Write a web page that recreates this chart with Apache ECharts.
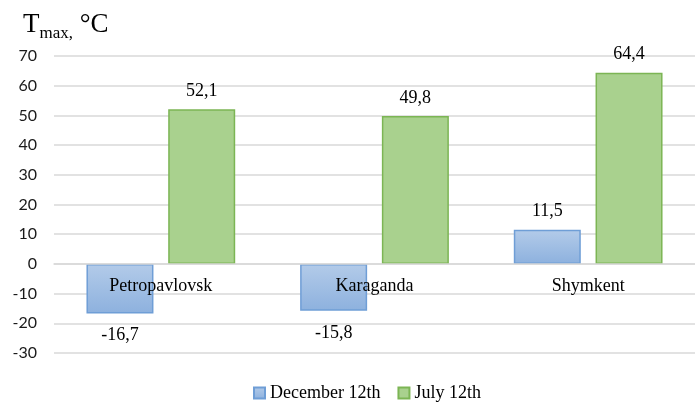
<!DOCTYPE html>
<html>
<head>
<meta charset="utf-8">
<script src="https://cdn.jsdelivr.net/npm/echarts@6/dist/echarts.min.js"></script>
<style>html,body{margin:0;padding:0;background:#fff}#c{width:695px;height:403px}</style>
</head>
<body>
<div id="c"></div>
<script>
var categories = ['Petropavlovsk', 'Karaganda', 'Shymkent'];
var december = [-16.7, -15.8, 11.5];
var july = [52.1, 49.8, 64.4];
var seriesNames = ['December 12th', 'July 12th'];
var yTicks = [-30, -20, -10, 0, 10, 20, 30, 40, 50, 60, 70];

var FONT = '"Liberation Serif", "Times New Roman", serif';
var SANS = 'Lato, "Open Sans", sans-serif';
var GRID_H = 297;
var yMin = yTicks[0], yMax = yTicks[yTicks.length - 1];
// distance from bottom of grid up to the zero line
var zeroOffset = GRID_H * (0 - yMin) / (yMax - yMin);

function fmt(p) { return String(p.value).replace('.', ','); }
function items(arr) {
  return arr.map(function (v) {
    return { value: v, label: { position: v < 0 ? 'bottom' : 'top', distance: v < 0 ? 13 : 9 } };
  });
}
var chart = echarts.init(document.getElementById('c'));
chart.setOption({
  animation: false,
  backgroundColor: '#fff',
  textStyle: { fontFamily: FONT },
  title: {
    left: 18, top: -1,
    text: '{t|T}{s|max,}{t| °C}',
    textStyle: {
      fontWeight: 'normal',
      rich: {
        t: { fontFamily: FONT, fontSize: 27, fontWeight: 'normal', color: '#000', lineHeight: 34, verticalAlign: 'bottom' },
        s: { fontFamily: FONT, fontSize: 17, fontWeight: 'normal', color: '#000', lineHeight: 34, verticalAlign: 'bottom', padding: [0, 0, -4, 0] }
      }
    }
  },
  legend: {
    top: 379, left: 248,
    icon: 'rect', itemWidth: 11, itemHeight: 11, itemGap: 17,
    textStyle: { fontFamily: FONT, fontSize: 18, color: '#000' },
    data: seriesNames
  },
  grid: { left: 54, top: 56, width: 649, height: GRID_H, containLabel: false },
  xAxis: {
    type: 'category', data: categories,
    offset: -zeroOffset, z: 10,
    axisLine: { show: true, onZero: false, lineStyle: { color: '#d9d9d9', width: 1.5 } },
    axisTick: { show: false },
    axisLabel: { fontFamily: FONT, fontSize: 18, color: '#000', margin: 13 }
  },
  yAxis: {
    type: 'value', min: yMin, max: yMax, interval: 10,
    axisLine: { show: false }, axisTick: { show: false },
    splitLine: { lineStyle: { color: '#d9d9d9', width: 1.5 } },
    axisLabel: { fontFamily: SANS, fontSize: 16, color: '#1a1a1a', margin: 17 }
  },
  series: [
    {
      name: seriesNames[0], type: 'bar', data: items(december),
      barWidth: 67, barGap: '22%',
      itemStyle: {
        color: new echarts.graphic.LinearGradient(0, 0, 0, 1, [
          { offset: 0, color: '#b3cbe9' }, { offset: 1, color: '#8db1de' }
        ]),
        borderColor: '#6f9ed6', borderWidth: 1.5
      },
      label: { show: true, fontFamily: FONT, fontSize: 18, color: '#000', formatter: fmt }
    },
    {
      name: seriesNames[1], type: 'bar', data: items(july),
      barWidth: 67, barGap: '22%',
      itemStyle: { color: '#a9d18e', borderColor: '#7cb554', borderWidth: 1.5 },
      label: { show: true, fontFamily: FONT, fontSize: 18, color: '#000', formatter: fmt }
    }
  ]
});
</script>
</body>
</html>
